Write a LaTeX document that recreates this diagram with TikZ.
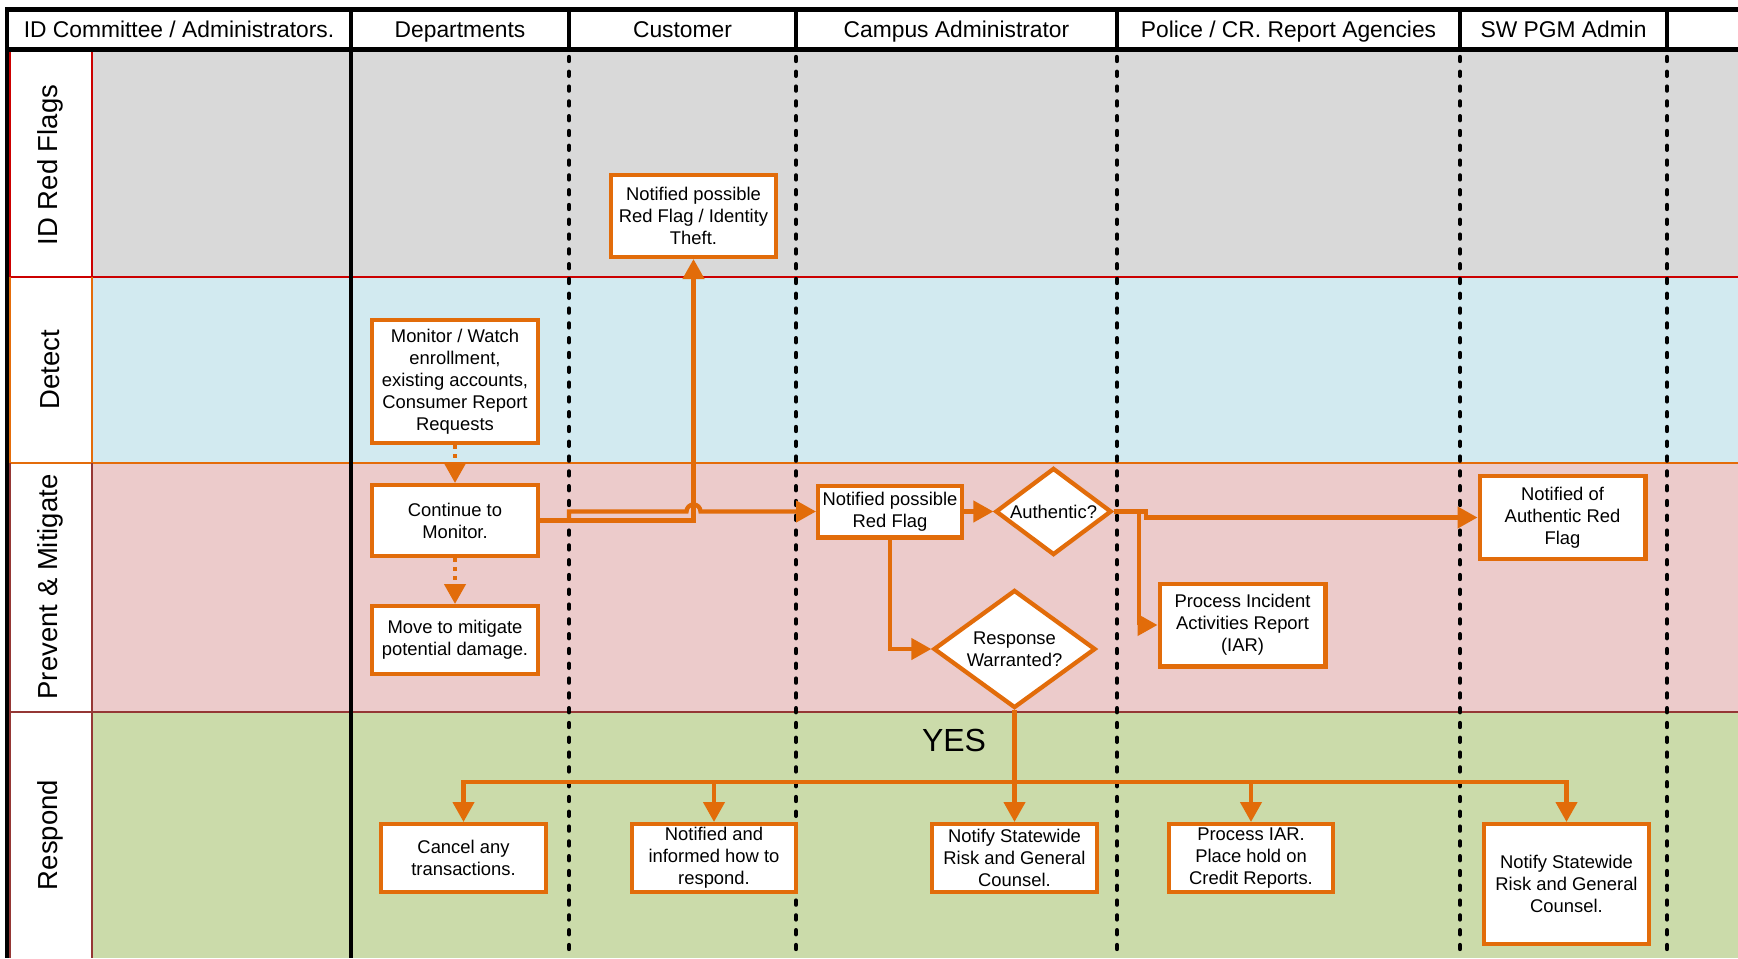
\documentclass[tikz,border=0pt]{standalone}
\usepackage{fontspec}
\setmainfont{Liberation Sans}
\usetikzlibrary{shapes.geometric,arrows.meta}
\definecolor{org}{RGB}{226,108,10}
\definecolor{lgray}{RGB}{217,217,217}
\definecolor{lblue}{RGB}{210,234,240}
\definecolor{lpink}{RGB}{236,203,203}
\definecolor{lgreen}{RGB}{203,219,170}
\definecolor{lred}{RGB}{204,0,0}
\definecolor{lorange}{RGB}{228,108,10}
\definecolor{lbrown}{RGB}{149,55,53}
\tikzset{
 box/.style={draw=org, line width=2.15pt, fill=white, rectangle, inner sep=0pt, align=center, font=\fontsize{9.2pt}{11pt}\selectfont},
 dia/.style={draw=org, line width=2.15pt, fill=white, diamond, inner sep=0pt, align=center, font=\fontsize{9.2pt}{11pt}\selectfont},
 conn/.style={draw=org, line width=2.15pt, -{Triangle[length=10pt,width=10.5pt]}},
 bothconn/.style={draw=org, line width=2.15pt, {Triangle[length=10pt,width=10.5pt]}-{Triangle[length=10pt,width=10.5pt]}},
 dconn/.style={conn, dash pattern=on 2pt off 2.5pt},
 lanesep/.style={line width=2.2pt, line cap=round, dash pattern=on 2pt off 5.4pt},
 hdr/.style={font=\fontsize{11.4pt}{13pt}\selectfont, anchor=base},
 lanelbl/.style={rotate=90, font=\fontsize{13.75pt}{16pt}\selectfont},
 lsep/.style={line width=0.7pt},
}
\begin{document}
\begin{tikzpicture}[x=0.5pt,y=-0.5pt]
\useasboundingbox (0,0) rectangle (1738,958);
\fill[white] (0,0) rectangle (1738,958);
% lanes
\fill[lgray] (92,52) rectangle (1738,277);
\fill[lblue] (92,277) rectangle (1738,463);
\fill[lpink] (92,463) rectangle (1738,712);
\fill[lgreen] (92,712) rectangle (1738,958);
\draw[lsep, lred] (9,277) -- (1738,277);
\draw[lsep, lorange] (9,463) -- (1738,463);
\draw[lsep, lbrown] (9,712) -- (1738,712);
\draw[lsep, lred] (92,52) -- (92,277);
\draw[lsep, lorange] (92,277) -- (92,463);
\draw[lsep, lbrown] (92,463) -- (92,958);
\draw[lsep, lred] (10,52) -- (10,277);
\draw[lsep, lorange] (10,277) -- (10,463);
\draw[lsep, lbrown] (10,463) -- (10,958);
% lane labels
\node[lanelbl] (l1) at (50,165) {ID Red Flags};
\node[lanelbl] (l2) at (50,370) {Detect};
\node[lanelbl] (l3) at (50,587) {Prevent \& Mitigate};
\node[lanelbl] (l4) at (50,835) {Respond};
% header
\fill[white] (7,9) rectangle (1738,50);
\node[hdr] (h1) at (179,37.5) {ID Committee / Administrators.};
\node[hdr] (h2) at (460,37.5) {Departments};
\node[hdr] (h3) at (682.5,37.5) {Customer};
\node[hdr] (h4) at (956.5,37.5) {Campus Administrator};
\node[hdr] (h5) at (1288.5,37.5) {Police / CR. Report Agencies};
\node[hdr] (h6) at (1563.5,37.5) {SW PGM Admin};
\draw[line width=2.5pt] (5,9.5) -- (1738,9.5);
\draw[line width=2.5pt] (5,49.5) -- (1738,49.5);
\draw[line width=2pt] (7,7) -- (7,958);
\foreach \xx in {351,569,796,1117,1460,1667} {\draw[line width=2.25pt] (\xx,9.5) -- (\xx,49.5);}
\draw[line width=2.25pt] (351,49.5) -- (351,958);
\foreach \xx in {569,796,1117,1460,1667} {\draw[lanesep] (\xx,57) -- (\xx,958);}
% nodes
\node[box, minimum width=82.35pt, minimum height=40.85pt] (nrf) at (693.5,216) {Notified possible\\Red Flag / Identity\\Theft.};
\node[box, minimum width=82.85pt, minimum height=61.35pt] (mon) at (455,381.5) {Monitor / Watch\\enrollment,\\existing accounts,\\Consumer Report\\Requests};
\node[box, minimum width=82.85pt, minimum height=35.35pt] (cont) at (455,520.5) {Continue to\\Monitor.};
\node[box, minimum width=82.85pt, minimum height=33.85pt] (move) at (455,640) {Move to mitigate\\potential damage.};
\node[box, minimum width=71.85pt, minimum height=25.85pt] (nprf) at (890,511.5) {Notified possible\\Red Flag};
\node[dia, aspect=1.33, minimum width=58pt, minimum height=43.5pt] (auth) at (1053.5,511.5) {Authentic?};
\node[dia, aspect=1.38, minimum width=81pt, minimum height=59pt] (resp) at (1014.5,649) {Response\\Warranted?};
\node[box, minimum width=82.85pt, minimum height=41.35pt] (iar) at (1242.5,625) {Process Incident\\Activities Report\\(IAR)};
\node[box, minimum width=82.85pt, minimum height=41.35pt] (nauth) at (1562.5,517.5) {Notified of\\Authentic Red\\Flag};
\node[box, minimum width=82.35pt, minimum height=33.85pt] (cancel) at (463.5,858) {Cancel any\\transactions.};
\node[box, minimum width=81.85pt, minimum height=33.85pt] (inf) at (714,858) {Notified and\\informed how to\\respond.};
\node[box, minimum width=82.35pt, minimum height=33.85pt] (canot) at (1014.5,858) {Notify Statewide\\Risk and General\\Counsel.};
\node[box, minimum width=81.85pt, minimum height=33.85pt] (hold) at (1251,858) {Process IAR.\\Place hold on\\Credit Reports.};
\node[box, minimum width=82.35pt, minimum height=59.85pt] (swnot) at (1566.5,884) {Notify Statewide\\Risk and General\\Counsel.};
\node[font=\fontsize{16pt}{18pt}\selectfont] (yes) at (954,740) {YES};
% coordinates
\coordinate (b1) at (569,520.5);
\coordinate (b2) at (569,511.5);
\coordinate (hop) at (686.5,511.5);
\coordinate (e1) at (1146,511.5);
\coordinate (e2) at (1146,517.5);
\coordinate (f1) at (1139,511.5);
\coordinate (fan) at (1014.5,782);
% connectors
\draw[dconn] (mon.south) -- (cont.north);
\draw[dconn] (cont.south) -- (move.north);
\draw[conn] (cont.east) -| (nrf.south);
\draw[conn] (cont.east) -- (b1) -- (b2) -- (hop) arc[start angle=180, end angle=0, radius=3.5pt] -- (nprf.west);
\draw[conn] (nprf.east) -- (auth.west);
\draw[conn] (nprf.south) |- (resp.west);
\draw[conn] (auth.east) -- (e1) -- (e2) -- (nauth.west);
\draw[conn] (f1) |- (iar.west);
\draw[conn] (resp.south) -- (canot.north);
\draw[bothconn] (cancel.north) -- (cancel.north |- fan) -- (swnot.north |- fan) -- (swnot.north);
\draw[conn] (inf.north |- fan) -- (inf.north);
\draw[conn] (hold.north |- fan) -- (hold.north);
\end{tikzpicture}
\end{document}
